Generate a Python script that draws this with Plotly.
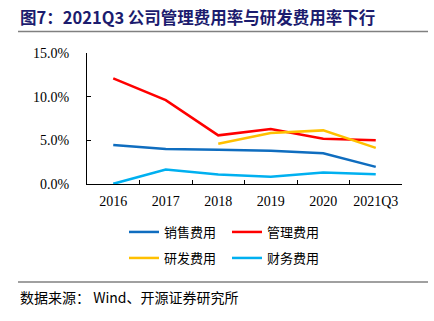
import plotly.graph_objects as go

# Expense ratios (% of revenue)
years = ["2016", "2017", "2018", "2019", "2020", "2021Q3"]
selling = [4.47, 4.0, 3.93, 3.82, 3.52, 1.96]
admin = [12.1, 9.6, 5.57, 6.3, 5.19, 5.0]
rnd = [None, None, 4.62, 5.84, 6.14, 4.13]
finance = [0.02, 1.65, 1.08, 0.82, 1.31, 1.12]

series = [
    ("销售费用", selling, "#0F6DBF", "legend"),
    ("管理费用", admin, "#FF0000", "legend"),
    ("研发费用", rnd, "#FFC000", "legend2"),
    ("财务费用", finance, "#00B0F0", "legend2"),
]

W, H = 434, 321
L, R, T, B = 87, 32, 53, 137
PW, PH = W - L - R, H - T - B


def px_x(x):
    return (x - L) / PW


def px_y(y):
    return 1 - (y - T) / PH


fig = go.Figure()
for name, vals, color, leg in series:
    fig.add_trace(go.Scatter(
        x=years, y=vals, name=name, mode="lines",
        line=dict(color=color, width=2.5),
        connectgaps=False, legend=leg,
    ))

tick_font = dict(family="Liberation Serif, Times New Roman, serif", size=14, color="#000000")
cjk = "Noto Sans CJK SC"

leg_common = dict(
    orientation="h", xanchor="left", yanchor="middle",
    entrywidth=58, entrywidthmode="pixels",
    font=dict(family=cjk, size=13, color="#000000"),
    itemwidth=30, bgcolor="rgba(0,0,0,0)",
)

fig.update_layout(
    width=W, height=H,
    margin=dict(l=L, r=R, t=T, b=B),
    paper_bgcolor="white", plot_bgcolor="white",
    showlegend=True,
    legend=dict(x=px_x(124), y=px_y(232), **leg_common),
    legend2=dict(x=px_x(124), y=px_y(258), **leg_common),
    xaxis=dict(
        type="category", showgrid=False, zeroline=False,
        showline=True, linecolor="#000000", linewidth=1,
        ticks="inside", ticklen=4, tickcolor="#000000",
        tickmode="array", tickvals=years, ticktext=years,
        tickson="boundaries", tickfont=tick_font, tickangle=0,
        ticklabelstandoff=4,
        range=[-0.5, len(years) - 0.5],
    ),
    yaxis=dict(
        range=[0, 15], tickvals=[0, 5, 10, 15],
        ticktext=["0.0%", "5.0%", "10.0%", "15.0%"],
        showgrid=False, zeroline=False,
        showline=True, linecolor="#000000", linewidth=1,
        ticks="inside", ticklen=4, tickcolor="#000000",
        tickfont=tick_font, ticklabelstandoff=14,
    ),
)

# Heading, rules and source note
fig.add_annotation(
    text="<b>图7：2021Q3 公司管理费用率与研发费用率下行</b>",
    xref="paper", yref="paper", x=px_x(18), y=px_y(17),
    xanchor="left", yanchor="middle", showarrow=False,
    font=dict(family=cjk, size=16.5, color="#1C1C6E"),
)
fig.add_annotation(
    text="数据来源： Wind、开源证券研究所",
    xref="paper", yref="paper", x=px_x(18), y=px_y(297),
    xanchor="left", yanchor="middle", showarrow=False,
    font=dict(family=cjk, size=14, color="#000000"),
)
for ypx in (31.5, 282):
    fig.add_shape(
        type="line", xref="paper", yref="paper",
        x0=px_x(18), x1=px_x(428), y0=px_y(ypx), y1=px_y(ypx),
        line=dict(color="#808080", width=1.5),
    )

fig.write_html("out.html")
